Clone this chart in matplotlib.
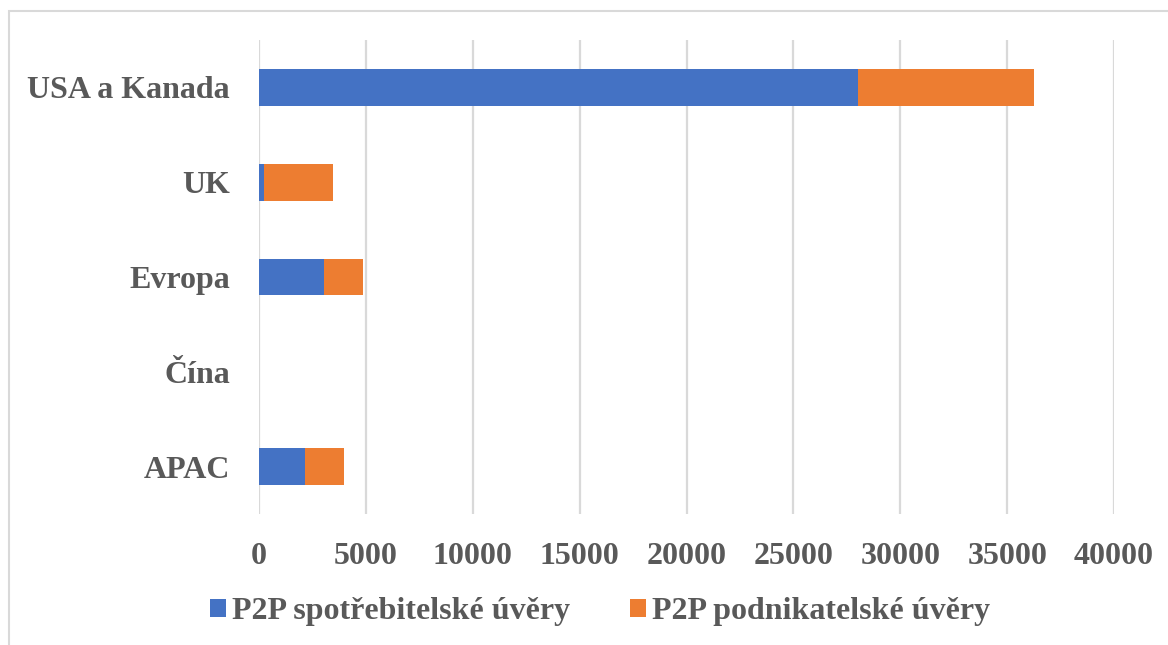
import matplotlib
matplotlib.use('Agg')
from matplotlib import pyplot as plt
from matplotlib.patches import Rectangle
import numpy as np

# Data
regiony = ['USA a Kanada', 'UK', 'Evropa', 'Čína', 'APAC']
spotrebitelske = [28000, 220, 3040, 0, 2170]
podnikatelske = [8250, 3260, 1830, 0, 1810]
xticks = [0, 5000, 10000, 15000, 20000, 25000, 30000, 35000, 40000]

modra = '#4472C4'
oranzova = '#ED7D31'
seda_text = '#595959'
seda_mrizka = '#D9D9D9'

plt.rcParams['font.family'] = ['Liberation Serif', 'DejaVu Serif']
plt.rcParams['font.weight'] = 'bold'

fig = plt.figure(figsize=(11.68, 6.45), dpi=100)
ax = fig.add_axes([259 / 1168, 1 - 514 / 645, (1114 - 259) / 1168, (514 - 40) / 645])

y = np.arange(len(regiony))
ax.barh(y, spotrebitelske, height=0.39, color=modra, label='P2P spotřebitelské úvěry', zorder=3)
ax.barh(y, podnikatelske, left=spotrebitelske, height=0.39, color=oranzova,
        label='P2P podnikatelské úvěry', zorder=3)

ax.set_ylim(len(regiony) - 0.5, -0.5)
ax.set_xlim(0, 40000)
ax.set_yticks(y)
ax.set_yticklabels(regiony, fontsize=23, fontweight='bold', color=seda_text)
ax.set_xticks(xticks)
ax.set_xticklabels([str(t) for t in xticks], fontsize=23, fontweight='bold', color=seda_text)
ax.tick_params(axis='y', length=0, pad=21)
ax.tick_params(axis='x', length=0, pad=20)

ax.grid(axis='x', color=seda_mrizka, linewidth=1.6, zorder=0)
for s in ax.spines.values():
    s.set_visible(False)

# ramecek grafu
fig.patches.append(Rectangle((9 / 1168, -0.01), 1.2, 1 - 11 / 645 + 0.01, transform=fig.transFigure,
                             fill=False, edgecolor=seda_mrizka, linewidth=1.5))

leg = fig.legend(loc='center', bbox_to_anchor=(600 / 1168, 1 - 612 / 645), ncol=2, frameon=False,
                 prop={'size': 23, 'weight': 'bold'}, handlelength=0.5, handleheight=0.5,
                 handletextpad=0.2, columnspacing=1.85)
for t in leg.get_texts():
    t.set_color(seda_text)

fig.savefig('out.png', dpi=100)
